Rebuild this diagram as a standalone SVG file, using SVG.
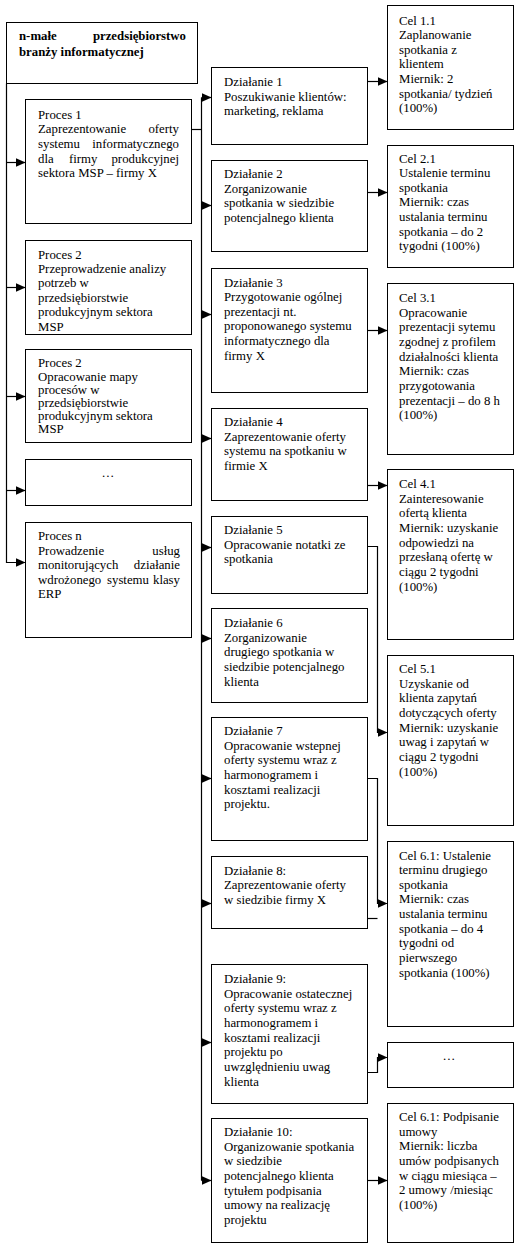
<svg xmlns="http://www.w3.org/2000/svg" width="518" height="1246" viewBox="0 0 518 1246">
<style>
.box{fill:#fff;stroke:#000;stroke-width:1}
.t{font-family:"Liberation Serif","Times New Roman",serif;font-size:12.8px;fill:#000}
.b{font-weight:bold}
.c{fill:none;stroke:#000;stroke-width:1.2}
</style>
<defs>
<marker id="ah" markerWidth="10" markerHeight="9" refX="10" refY="4.5" orient="auto" markerUnits="userSpaceOnUse"><path d="M0,0 L10,4.5 L0,9 z" fill="#000"/></marker>
</defs>
<rect width="518" height="1246" fill="#fff"/>

<g id="connectors">
<path class="c" d="M6.5,83.5 V562.5 H25.5" marker-end="url(#ah)"/>
<path class="c" d="M6.5,162.5 H25.5" marker-end="url(#ah)"/>
<path class="c" d="M6.5,287.5 H25.5" marker-end="url(#ah)"/>
<path class="c" d="M6.5,396.5 H25.5" marker-end="url(#ah)"/>
<path class="c" d="M6.5,490.5 H25.5" marker-end="url(#ah)"/>
<path class="c" d="M191.5,129.5 H201.5"/>
<path class="c" d="M201.5,97.5 V1180.5"/>
<path class="c" d="M201.5,97.5 H211.5" marker-end="url(#ah)"/>
<path class="c" d="M201.5,205.5 H211.5" marker-end="url(#ah)"/>
<path class="c" d="M201.5,314.5 H211.5" marker-end="url(#ah)"/>
<path class="c" d="M201.5,438.5 H211.5" marker-end="url(#ah)"/>
<path class="c" d="M201.5,547.5 H211.5" marker-end="url(#ah)"/>
<path class="c" d="M201.5,638.5 H211.5" marker-end="url(#ah)"/>
<path class="c" d="M201.5,778.5 H211.5" marker-end="url(#ah)"/>
<path class="c" d="M201.5,903.5 H211.5" marker-end="url(#ah)"/>
<path class="c" d="M201.5,1042.5 H211.5" marker-end="url(#ah)"/>
<path class="c" d="M201.5,1180.5 H211.5" marker-end="url(#ah)"/>
<path class="c" d="M367.5,81.5 H387.5" marker-end="url(#ah)"/>
<path class="c" d="M367.5,192.5 H387.5" marker-end="url(#ah)"/>
<path class="c" d="M367.5,330.5 H387.5" marker-end="url(#ah)"/>
<path class="c" d="M367.5,485.5 H387.5" marker-end="url(#ah)"/>
<path class="c" d="M367.5,546.5 H377.5 V732.5 H387.5" marker-end="url(#ah)"/>
<path class="c" d="M367.5,778.5 H377.5 V903.5 H387.5" marker-end="url(#ah)"/>
<path class="c" d="M367.5,918.5 H377.5"/>
<path class="c" d="M367.5,1072.5 H377.5 V1057.5 H387.5" marker-end="url(#ah)"/>
<path class="c" d="M367.5,1180.5 H387.5" marker-end="url(#ah)"/>
</g>

<g id="firma">
<rect class="box" x="6.5" y="22.5" width="191" height="61"/>
<text class="t b" y="39.5"><tspan x="19">n-małe</tspan><tspan x="186" text-anchor="end">przedsiębiorstwo</tspan></text>
<text class="t b" x="19" y="56">branży informatycznej</text>
</g>

<g id="proces1">
<rect class="box" x="25.5" y="99.5" width="166" height="124"/>
<text class="t" x="38" y="118.8">Proces 1</text>
<text class="t" y="133.4"><tspan x="38">Zaprezentowanie</tspan><tspan x="179" text-anchor="end">oferty</tspan></text>
<text class="t" y="148"><tspan x="38">systemu</tspan><tspan x="179" text-anchor="end">informatycznego</tspan></text>
<text class="t" y="162.6"><tspan x="38">dla</tspan><tspan x="69">firmy</tspan><tspan x="179" text-anchor="end">produkcyjnej</tspan></text>
<text class="t" x="38" y="177.2">sektora MSP – firmy X</text>
</g>

<g id="proces2">
<rect class="box" x="25.5" y="240.5" width="166" height="94"/>
<text class="t" y="258.5"><tspan x="38">Proces 2</tspan><tspan x="38" dy="14.4">Przeprowadzenie analizy</tspan><tspan x="38" dy="14.4">potrzeb w</tspan><tspan x="38" dy="14.4">przedsiębiorstwie</tspan><tspan x="38" dy="14.4">produkcyjnym sektora</tspan><tspan x="38" dy="14.4">MSP</tspan></text>
</g>

<g id="proces3">
<rect class="box" x="25.5" y="349.5" width="166" height="93"/>
<text class="t" y="367.3"><tspan x="38">Proces 2</tspan><tspan x="38" dy="13.2">Opracowanie mapy</tspan><tspan x="38" dy="13.2">procesów w</tspan><tspan x="38" dy="13.2">przedsiębiorstwie</tspan><tspan x="38" dy="13.2">produkcyjnym sektora</tspan><tspan x="38" dy="13.2">MSP</tspan></text>
</g>

<g id="proces-etc">
<rect class="box" x="25.5" y="459.5" width="166" height="46"/>
<text class="t" x="108" y="477" text-anchor="middle">…</text>
</g>

<g id="procesn">
<rect class="box" x="25.5" y="522.5" width="166" height="115"/>
<text class="t" x="38" y="540">Proces n</text>
<text class="t" y="554.6"><tspan x="38">Prowadzenie</tspan><tspan x="180" text-anchor="end">usług</tspan></text>
<text class="t" y="569.2"><tspan x="38">monitorujących</tspan><tspan x="180" text-anchor="end">działanie</tspan></text>
<text class="t" y="583.8"><tspan x="38">wdrożonego</tspan><tspan x="107">systemu</tspan><tspan x="180" text-anchor="end">klasy</tspan></text>
<text class="t" x="38" y="598.4">ERP</text>
</g>

<g id="dzialanie1">
<rect class="box" x="211.5" y="67.5" width="156" height="77"/>
<text class="t" y="86"><tspan x="224">Działanie 1</tspan><tspan x="224" dy="14.65">Poszukiwanie klientów:</tspan><tspan x="224" dy="14.65">marketing, reklama</tspan></text>
</g>
<g id="dzialanie2">
<rect class="box" x="211.5" y="160.5" width="156" height="91"/>
<text class="t" y="178"><tspan x="224">Działanie 2</tspan><tspan x="224" dy="14.65">Zorganizowanie</tspan><tspan x="224" dy="14.65">spotkania w siedzibie</tspan><tspan x="224" dy="14.65">potencjalnego klienta</tspan></text>
</g>
<g id="dzialanie3">
<rect class="box" x="211.5" y="268.5" width="156" height="124"/>
<text class="t" y="286.5"><tspan x="224">Działanie 3</tspan><tspan x="224" dy="14.65">Przygotowanie ogólnej</tspan><tspan x="224" dy="14.65">prezentacji nt.</tspan><tspan x="224" dy="14.65">proponowanego systemu</tspan><tspan x="224" dy="14.65">informatycznego dla</tspan><tspan x="224" dy="14.65">firmy X</tspan></text>
</g>
<g id="dzialanie4">
<rect class="box" x="211.5" y="408.5" width="156" height="92"/>
<text class="t" y="426"><tspan x="224">Działanie 4</tspan><tspan x="224" dy="14.65">Zaprezentowanie oferty</tspan><tspan x="224" dy="14.65">systemu na spotkaniu w</tspan><tspan x="224" dy="14.65">firmie X</tspan></text>
</g>
<g id="dzialanie5">
<rect class="box" x="211.5" y="516.5" width="156" height="77"/>
<text class="t" y="534"><tspan x="224">Działanie 5</tspan><tspan x="224" dy="14.65">Opracowanie notatki ze</tspan><tspan x="224" dy="14.65">spotkania</tspan></text>
</g>
<g id="dzialanie6">
<rect class="box" x="211.5" y="608.5" width="156" height="94"/>
<text class="t" y="627"><tspan x="224">Działanie 6</tspan><tspan x="224" dy="14.65">Zorganizowanie</tspan><tspan x="224" dy="14.65">drugiego spotkania w</tspan><tspan x="224" dy="14.65">siedzibie potencjalnego</tspan><tspan x="224" dy="14.65">klienta</tspan></text>
</g>
<g id="dzialanie7">
<rect class="box" x="211.5" y="717.5" width="156" height="123"/>
<text class="t" y="735"><tspan x="224">Działanie 7</tspan><tspan x="224" dy="14.65">Opracowanie wstepnej</tspan><tspan x="224" dy="14.65">oferty systemu wraz z</tspan><tspan x="224" dy="14.65">harmonogramem i</tspan><tspan x="224" dy="14.65">kosztami realizacji</tspan><tspan x="224" dy="14.65">projektu.</tspan></text>
</g>
<g id="dzialanie8">
<rect class="box" x="211.5" y="856.5" width="156" height="72"/>
<text class="t" y="874.5"><tspan x="224">Działanie 8:</tspan><tspan x="224" dy="14.65">Zaprezentowanie oferty</tspan><tspan x="224" dy="14.65">w siedzibie firmy X</tspan></text>
</g>
<g id="dzialanie9">
<rect class="box" x="211.5" y="964.5" width="156" height="139"/>
<text class="t" y="983"><tspan x="224">Działanie 9:</tspan><tspan x="224" dy="14.65">Opracowanie ostatecznej</tspan><tspan x="224" dy="14.65">oferty systemu wraz z</tspan><tspan x="224" dy="14.65">harmonogramem i</tspan><tspan x="224" dy="14.65">kosztami realizacji</tspan><tspan x="224" dy="14.65">projektu po</tspan><tspan x="224" dy="14.65">uwzględnieniu uwag</tspan><tspan x="224" dy="14.65">klienta</tspan></text>
</g>
<g id="dzialanie10">
<rect class="box" x="211.5" y="1118.5" width="156" height="124"/>
<text class="t" y="1136"><tspan x="224">Działanie 10:</tspan><tspan x="224" dy="14.65">Organizowanie spotkania</tspan><tspan x="224" dy="14.65">w siedzibie</tspan><tspan x="224" dy="14.65">potencjalnego klienta</tspan><tspan x="224" dy="14.65">tytułem podpisania</tspan><tspan x="224" dy="14.65">umowy na realizację</tspan><tspan x="224" dy="14.65">projektu</tspan></text>
</g>

<g id="cel1-1">
<rect class="box" x="387.5" y="5.5" width="126" height="124"/>
<text class="t" y="24.5"><tspan x="399">Cel 1.1</tspan><tspan x="399" dy="14.65">Zaplanowanie</tspan><tspan x="399" dy="14.65">spotkania z</tspan><tspan x="399" dy="14.65">klientem</tspan><tspan x="399" dy="14.65">Miernik: 2</tspan><tspan x="399" dy="14.65">spotkania/ tydzień</tspan><tspan x="399" dy="14.65">(100%)</tspan></text>
</g>
<g id="cel2-1">
<rect class="box" x="387.5" y="145.5" width="126" height="122"/>
<text class="t" y="162.5"><tspan x="399">Cel 2.1</tspan><tspan x="399" dy="14.65">Ustalenie terminu</tspan><tspan x="399" dy="14.65">spotkania</tspan><tspan x="399" dy="14.65">Miernik: czas</tspan><tspan x="399" dy="14.65">ustalania terminu</tspan><tspan x="399" dy="14.65">spotkania – do 2</tspan><tspan x="399" dy="14.65">tygodni (100%)</tspan></text>
</g>
<g id="cel3-1">
<rect class="box" x="387.5" y="283.5" width="126" height="171"/>
<text class="t" y="302"><tspan x="399">Cel 3.1</tspan><tspan x="399" dy="14.65">Opracowanie</tspan><tspan x="399" dy="14.65">prezentacji sytemu</tspan><tspan x="399" dy="14.65">zgodnej z profilem</tspan><tspan x="399" dy="14.65">działalności klienta</tspan><tspan x="399" dy="14.65">Miernik: czas</tspan><tspan x="399" dy="14.65">przygotowania</tspan><tspan x="399" dy="14.65">prezentacji – do 8 h</tspan><tspan x="399" dy="14.65">(100%)</tspan></text>
</g>
<g id="cel4-1">
<rect class="box" x="387.5" y="469.5" width="126" height="170"/>
<text class="t" y="488"><tspan x="399">Cel 4.1</tspan><tspan x="399" dy="14.65">Zainteresowanie</tspan><tspan x="399" dy="14.65">ofertą klienta</tspan><tspan x="399" dy="14.65">Miernik: uzyskanie</tspan><tspan x="399" dy="14.65">odpowiedzi na</tspan><tspan x="399" dy="14.65">przesłaną ofertę w</tspan><tspan x="399" dy="14.65">ciągu 2 tygodni</tspan><tspan x="399" dy="14.65">(100%)</tspan></text>
</g>
<g id="cel5-1">
<rect class="box" x="387.5" y="655.5" width="126" height="170"/>
<text class="t" y="673"><tspan x="399">Cel 5.1</tspan><tspan x="399" dy="14.65">Uzyskanie od</tspan><tspan x="399" dy="14.65">klienta zapytań</tspan><tspan x="399" dy="14.65">dotyczących oferty</tspan><tspan x="399" dy="14.65">Miernik: uzyskanie</tspan><tspan x="399" dy="14.65">uwag i zapytań w</tspan><tspan x="399" dy="14.65">ciągu 2 tygodni</tspan><tspan x="399" dy="14.65">(100%)</tspan></text>
</g>
<g id="cel6-1">
<rect class="box" x="387.5" y="841.5" width="126" height="185"/>
<text class="t" y="859.5"><tspan x="399">Cel 6.1: Ustalenie</tspan><tspan x="399" dy="14.65">terminu drugiego</tspan><tspan x="399" dy="14.65">spotkania</tspan><tspan x="399" dy="14.65">Miernik: czas</tspan><tspan x="399" dy="14.65">ustalania terminu</tspan><tspan x="399" dy="14.65">spotkania – do 4</tspan><tspan x="399" dy="14.65">tygodni od</tspan><tspan x="399" dy="14.65">pierwszego</tspan><tspan x="399" dy="14.65">spotkania (100%)</tspan></text>
</g>
<g id="cel-etc">
<rect class="box" x="387.5" y="1042.5" width="126" height="45"/>
<text class="t" x="449" y="1060" text-anchor="middle">…</text>
</g>
<g id="cel6-1b">
<rect class="box" x="387.5" y="1103.5" width="126" height="139"/>
<text class="t" y="1121"><tspan x="399">Cel 6.1: Podpisanie</tspan><tspan x="399" dy="14.65">umowy</tspan><tspan x="399" dy="14.65">Miernik: liczba</tspan><tspan x="399" dy="14.65">umów podpisanych</tspan><tspan x="399" dy="14.65">w ciągu miesiąca –</tspan><tspan x="399" dy="14.65">2 umowy /miesiąc</tspan><tspan x="399" dy="14.65">(100%)</tspan></text>
</g>
</svg>
